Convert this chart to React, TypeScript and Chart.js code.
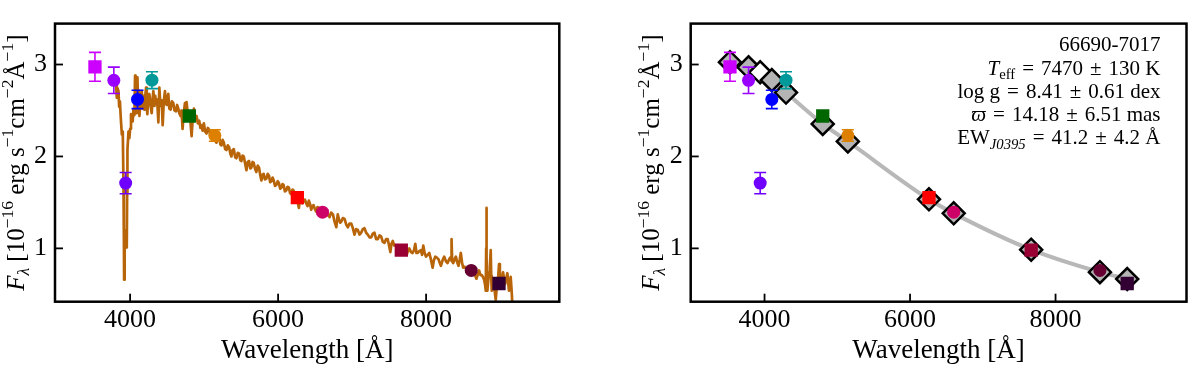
import React, { useEffect, useRef } from 'react';
import { Chart, registerables } from 'chart.js';

Chart.register(...registerables);

// ---------------- data ----------------
const FILTER_NAMES = ['uJAVA', 'J0378', 'J0395', 'J0410', 'J0430', 'gSDSS', 'J0515', 'rSDSS', 'J0660', 'iSDSS', 'J0861', 'zSDSS'];
const FILTER_WL = [3525, 3780, 3940, 4100, 4295, 4800, 5145, 6260, 6600, 7665, 8610, 8985];
const PHOT_FLUX = [2.975, 2.828, 1.71, 2.62, 2.83, 2.44, 2.228, 1.553, 1.394, 0.98, 0.76, 0.618];
const PHOT_ERR = [0.157, 0.144, 0.115, 0.1, 0.092, 0.025, 0.062, 0.02, 0.02, 0.02, 0.02, 0.02];
const PHOT_MARKER = ['s', 'o', 'o', 'o', 'o', 's', 'o', 's', 'o', 's', 'o', 's'];
const PHOT_COLOR = ['#cc00ff', '#9900ff', '#6f00ff', '#0000ff', '#009999', '#006600', '#dd8000', '#ff0000', '#cc0066', '#990033', '#660033', '#330034'];
const MODEL_FLUX = [3.025, 2.97, 2.915, 2.83, 2.695, 2.354, 2.163, 1.534, 1.381, 0.986, 0.741, 0.667];
const MODEL_FITTED = [true, true, false, true, true, true, true, true, true, true, true, true];

const SPEC_WL = [
  3811, 3820, 3831, 3843, 3852, 3862, 3874, 3888, 3901, 3910, 3916, 3919, 3926, 3933, 3944, 3955, 3960, 3964, 3978, 3990,
  4000, 4012, 4022, 4035, 4045, 4058, 4067, 4074, 4081, 4090, 4099, 4108, 4117, 4126, 4140, 4157, 4170, 4180, 4189, 4200,
  4216, 4225, 4233, 4245, 4260, 4275, 4292, 4303, 4314, 4330, 4340, 4350, 4365, 4382, 4395, 4410, 4427, 4440, 4455, 4471,
  4482, 4494, 4505, 4516, 4530, 4548, 4565, 4584, 4600, 4620, 4635, 4651, 4665, 4682, 4695, 4709, 4722, 4741, 4752, 4763,
  4780, 4799, 4815, 4831, 4845, 4862, 4880, 4898, 4915, 4934, 4950, 4965, 4980, 4997, 5015, 5033, 5050, 5069, 5085, 5100,
  5115, 5131, 5150, 5167, 5185, 5203, 5220, 5235, 5250, 5266, 5285, 5302, 5320, 5338, 5355, 5369, 5385, 5401, 5420, 5437,
  5455, 5473, 5490, 5504, 5520, 5536, 5555, 5572, 5590, 5607, 5625, 5639, 5655, 5670, 5690, 5706, 5725, 5742, 5758, 5774,
  5790, 5805, 5822, 5841, 5860, 5877, 5893, 5908, 5925, 5940, 5958, 5976, 5995, 6011, 6028, 6043, 6060, 6074, 6092, 6110,
  6128, 6146, 6162, 6178, 6195, 6209, 6228, 6245, 6262, 6281, 6296, 6312, 6328, 6344, 6362, 6380, 6398, 6416, 6432, 6447,
  6462, 6479, 6496, 6514, 6532, 6550, 6565, 6582, 6598, 6613, 6630, 6649, 6665, 6685, 6696, 6716, 6741, 6760, 6786, 6806,
  6821, 6838, 6853, 6875, 6898, 6920, 6943, 6965, 6988, 7010, 7032, 7055, 7077, 7100, 7122, 7145, 7167, 7190, 7212, 7235,
  7257, 7280, 7302, 7325, 7347, 7370, 7392, 7415, 7437, 7460, 7481, 7500, 7517, 7532, 7549, 7570, 7594, 7615, 7639, 7665,
  7690, 7706, 7722, 7737, 7755, 7773, 7795, 7818, 7836, 7854, 7870, 7886, 7908, 7930, 7945, 7962, 7980, 7998, 8020, 8043,
  8065, 8088, 8105, 8124, 8145, 8169, 8185, 8200, 8222, 8245, 8268, 8290, 8310, 8326, 8338, 8344, 8352, 8366, 8385, 8402,
  8420, 8438, 8455, 8469, 8485, 8501, 8520, 8537, 8560, 8580, 8604, 8625, 8649, 8665, 8680, 8700, 8716, 8735, 8752, 8768,
  8784, 8798, 8806, 8812, 8815, 8819, 8828, 8840, 8851, 8862, 8873, 8880, 8887, 8898, 8909, 8925, 8941, 8952, 8963, 8975,
  8986, 8997, 9008, 9025, 9040, 9055, 9066, 9082, 9098, 9110, 9120, 9132, 9143, 9155, 9165,
];
const SPEC_FLUX = [
  2.78, 2.64, 2.74, 2.71, 2.54, 2.60, 2.42, 2.24, 2.27, 1.73, 1.10, 0.66, 1.20, 1.05, 1.02, 1.01, 1.60, 2.07, 2.27, 2.20,
  2.30, 2.46, 2.44, 2.38, 2.51, 2.45, 2.88, 2.55, 2.47, 2.62, 2.86, 2.58, 2.72, 2.44, 2.60, 2.71, 2.52, 2.66, 2.51, 2.62,
  2.75, 2.55, 2.46, 2.64, 2.68, 2.56, 2.47, 2.62, 2.71, 2.55, 2.66, 2.58, 2.62, 2.37, 2.75, 2.55, 2.61, 2.34, 2.60, 2.71,
  2.58, 2.56, 2.64, 2.68, 2.52, 2.51, 2.60, 2.58, 2.50, 2.49, 2.56, 2.52, 2.47, 2.44, 2.50, 2.30, 2.45, 2.58, 2.50, 2.59,
  2.46, 2.44, 2.38, 2.22, 2.40, 2.52, 2.40, 2.44, 2.36, 2.39, 2.31, 2.34, 2.28, 2.36, 2.27, 2.25, 2.31, 2.29, 2.22, 2.20,
  2.26, 2.25, 2.17, 2.15, 2.21, 2.22, 2.13, 2.12, 2.18, 2.15, 2.08, 2.07, 2.12, 2.10, 2.03, 2.00, 2.07, 2.08, 1.99, 1.98,
  2.04, 2.03, 1.96, 1.95, 2.01, 2.00, 1.92, 1.85, 1.94, 1.95, 1.87, 1.88, 1.94, 1.93, 1.86, 1.83, 1.90, 1.88, 1.80, 1.74,
  1.80, 1.81, 1.75, 1.76, 1.81, 1.79, 1.72, 1.73, 1.77, 1.74, 1.68, 1.69, 1.73, 1.71, 1.65, 1.66, 1.70, 1.69, 1.62, 1.63,
  1.67, 1.66, 1.60, 1.59, 1.64, 1.63, 1.57, 1.56, 1.52, 1.44, 1.55, 1.54, 1.49, 1.51, 1.53, 1.49, 1.46, 1.52, 1.48, 1.42,
  1.46, 1.47, 1.43, 1.40, 1.45, 1.44, 1.38, 1.39, 1.42, 1.40, 1.36, 1.39, 1.37, 1.35, 1.34, 1.39, 1.37, 1.30, 1.23, 1.37,
  1.32, 1.28, 1.29, 1.33, 1.32, 1.26, 1.23, 1.27, 1.27, 1.22, 1.15, 1.21, 1.20, 1.15, 1.17, 1.21, 1.22, 1.17, 1.15, 1.12,
  1.12, 1.16, 1.17, 1.10, 1.10, 1.14, 1.13, 1.07, 1.06, 1.10, 1.10, 1.03, 0.96, 1.05, 1.08, 1.03, 1.03, 1.00, 1.00, 0.97,
  0.99, 0.96, 0.98, 0.93, 0.97, 1.00, 0.96, 0.95, 0.98, 1.05, 0.95, 0.95, 0.97, 0.98, 0.93, 1.03, 0.95, 0.91, 0.93, 0.95,
  0.88, 0.79, 0.87, 0.91, 0.90, 0.88, 0.84, 0.81, 0.87, 0.91, 0.86, 0.84, 0.88, 0.90, 0.87, 1.10, 0.86, 0.84, 0.88, 0.91,
  0.85, 0.81, 0.88, 0.95, 0.85, 0.79, 0.80, 0.78, 0.76, 0.77, 0.76, 0.74, 0.74, 0.70, 0.67, 0.72, 0.76, 0.71, 0.71, 0.69,
  0.66, 0.60, 0.54, 1.00, 1.44, 0.90, 0.54, 0.65, 0.74, 0.80, 0.98, 0.70, 0.54, 0.62, 0.67, 0.55, 0.44, 0.55, 0.64, 0.70,
  0.83, 0.70, 0.62, 0.68, 0.74, 0.66, 0.61, 0.67, 0.73, 0.62, 0.54, 0.62, 0.69, 0.55, 0.40,
];

const X_TICKS = [4000, 6000, 8000];
const Y_TICKS = [1, 2, 3];
const X_MIN = 2985;
const X_MAX = 9800;
const Y_MIN = 0.42;
const Y_MAX = 3.445;

const X_TITLE = 'Wavelength [Å]';
const STAR_ID = '66690-7017';

// ---------------- styling ----------------
const SERIF = '"Liberation Serif", "DejaVu Serif", serif';
const SPEC_COLOR = '#b8650a';
const MODEL_LINE_COLOR = '#b8b8b8';
const MODEL_FACE = '#b4b4b4';
const SP = '\u2004';

type Seg = { t: string; it?: boolean; sub?: boolean; sup?: boolean };

const Y_TITLE: Seg[] = [
  { t: 'F', it: true }, { t: 'λ', sub: true, it: true }, { t: ' [10' }, { t: '−16', sup: true },
  { t: ' erg s' }, { t: '−1', sup: true }, { t: 'cm' }, { t: '−2', sup: true },
  { t: 'Å' }, { t: '−1', sup: true }, { t: ']' },
];

const INFO_LINES: Seg[][] = [
  [{ t: STAR_ID }],
  [{ t: 'T', it: true }, { t: 'eff', sub: true }, { t: `${SP}=${SP}7470${SP}±${SP}130 K` }],
  [{ t: `log g${SP}=${SP}8.41${SP}±${SP}0.61 dex` }],
  [{ t: 'ϖ', it: true }, { t: `${SP}=${SP}14.18${SP}±${SP}6.51 mas` }],
  [{ t: 'EW' }, { t: 'J0395', sub: true, it: true }, { t: `${SP}=${SP}41.2${SP}±${SP}4.2 Å` }],
];

function segFont(s: Seg, size: number) {
  const sz = s.sub || s.sup ? size * 0.7 : size;
  return `${s.it ? 'italic ' : ''}${sz}px ${SERIF}`;
}

function segsWidth(ctx: CanvasRenderingContext2D, segs: Seg[], size: number) {
  let w = 0;
  for (const s of segs) {
    ctx.font = segFont(s, size);
    w += ctx.measureText(s.t).width;
  }
  return w;
}

function drawSegs(ctx: CanvasRenderingContext2D, segs: Seg[], x: number, y: number, size: number, align: 'left' | 'right' | 'center') {
  const w = segsWidth(ctx, segs, size);
  let cx = align === 'right' ? x - w : align === 'center' ? x - w / 2 : x;
  ctx.textAlign = 'left';
  ctx.textBaseline = 'alphabetic';
  for (const s of segs) {
    ctx.font = segFont(s, size);
    const dy = s.sup ? -0.42 * size : s.sub ? 0.22 * size : 0;
    ctx.fillText(s.t, cx, y + dy);
    cx += ctx.measureText(s.t).width;
  }
}

function decorPlugin(showInfo: boolean) {
  return {
    id: showInfo ? 'decorRight' : 'decorLeft',
    afterDraw(chart: any) {
      const { ctx, chartArea: a, scales } = chart;
      ctx.save();
      ctx.strokeStyle = '#000';
      ctx.fillStyle = '#000';
      ctx.lineWidth = 1.8;
      for (const v of X_TICKS) {
        const px = scales.x.getPixelForValue(v);
        ctx.beginPath();
        ctx.moveTo(px, a.bottom);
        ctx.lineTo(px, a.bottom - 8);
        ctx.stroke();
      }
      for (const v of Y_TICKS) {
        const py = scales.y.getPixelForValue(v);
        ctx.beginPath();
        ctx.moveTo(a.left, py);
        ctx.lineTo(a.left + 8, py);
        ctx.stroke();
      }
      ctx.lineWidth = 2.5;
      ctx.strokeRect(a.left, a.top, a.right - a.left, a.bottom - a.top);

      ctx.save();
      ctx.translate(a.left - 31.5, (a.top + a.bottom) / 2);
      ctx.rotate(-Math.PI / 2);
      drawSegs(ctx, Y_TITLE, 0, 0, 25, 'center');
      ctx.restore();

      if (showInfo) {
        INFO_LINES.forEach((line, i) => {
          drawSegs(ctx, line, a.right - 26, a.top + 27.6 + i * 23.3, 21, 'right');
        });
      }
      ctx.restore();
    },
  };
}

function makeOptions(yAxisWidth: number, padRight: number) {
  const tickFont = { family: SERIF, size: 26 };
  return {
    animation: false,
    responsive: false,
    devicePixelRatio: 1,
    events: [],
    layout: { padding: { top: 4.7, right: padRight, left: 0, bottom: 0 } },
    plugins: { legend: { display: false }, tooltip: { enabled: false } },
    scales: {
      x: {
        type: 'linear',
        min: X_MIN,
        max: X_MAX,
        grid: { display: false, drawTicks: false },
        border: { display: false },
        ticks: { font: tickFont, color: '#000', padding: 3, autoSkip: false, maxRotation: 0, callback: (v: any) => String(v) },
        afterBuildTicks: (ax: any) => { ax.ticks = X_TICKS.map((v) => ({ value: v })); },
        afterFit: (ax: any) => { ax.height = 370 - 301.7; },
        title: { display: true, text: X_TITLE, color: '#000', font: { family: SERIF, size: 27 }, padding: { top: 0, bottom: 3 } },
      },
      y: {
        type: 'linear',
        min: Y_MIN,
        max: Y_MAX,
        grid: { display: false, drawTicks: false },
        border: { display: false },
        ticks: { font: tickFont, color: '#000', padding: 8, autoSkip: false, callback: (v: any) => String(v) },
        afterBuildTicks: (ax: any) => { ax.ticks = Y_TICKS.map((v) => ({ value: v })); },
        afterFit: (ax: any) => { ax.width = yAxisWidth; },
      },
    },
  };
}

function errorBarDatasets() {
  return FILTER_WL.map((wl, i) => ({
    label: FILTER_NAMES[i] + ' err',
    data: [{ x: wl, y: PHOT_FLUX[i] - PHOT_ERR[i] }, { x: wl, y: PHOT_FLUX[i] + PHOT_ERR[i] }],
    showLine: true,
    borderColor: PHOT_COLOR[i],
    borderWidth: 1.6,
    pointStyle: 'line',
    pointRadius: 6,
    pointBorderColor: PHOT_COLOR[i],
    pointBackgroundColor: PHOT_COLOR[i],
    pointBorderWidth: 1.6,
    order: 1,
  }));
}

function photDataset() {
  return {
    label: 'photometry',
    data: FILTER_WL.map((x, i) => ({ x, y: PHOT_FLUX[i] })),
    showLine: false,
    pointStyle: PHOT_MARKER.map((m) => (m === 's' ? 'rect' : 'circle')),
    pointRadius: PHOT_MARKER.map((m) => (m === 's' ? 9.4 : 6.5)),
    pointBackgroundColor: PHOT_COLOR,
    pointBorderColor: PHOT_COLOR,
    pointBorderWidth: 0,
    order: 0,
  };
}

function leftConfig(): any {
  return {
    type: 'scatter',
    data: {
      datasets: [
        photDataset(),
        ...errorBarDatasets(),
        {
          label: 'spectrum',
          data: SPEC_WL.map((x, i) => ({ x, y: SPEC_FLUX[i] })),
          showLine: true,
          borderColor: SPEC_COLOR,
          borderWidth: 2.7,
          borderJoinStyle: 'round',
          pointRadius: 0,
          clip: 0,
          order: 2,
        },
      ],
    },
    options: makeOptions(55, 600 - 559.3),
    plugins: [decorPlugin(false)],
  };
}

function rightConfig(): any {
  const modelData = FILTER_WL.map((x, i) => ({ x, y: MODEL_FLUX[i] }));
  return {
    type: 'scatter',
    data: {
      datasets: [
        photDataset(),
        ...errorBarDatasets(),
        {
          label: 'model',
          data: modelData,
          showLine: false,
          pointStyle: 'rectRot',
          pointRadius: 11,
          pointBackgroundColor: MODEL_FITTED.map((f) => (f ? MODEL_FACE : '#ffffff')),
          pointBorderColor: '#000',
          pointBorderWidth: 2.5,
          order: 2,
        },
        {
          label: 'model line',
          data: modelData,
          showLine: true,
          borderColor: MODEL_LINE_COLOR,
          borderWidth: 4,
          cubicInterpolationMode: 'monotone',
          pointRadius: 0,
          order: 3,
        },
      ],
    },
    options: makeOptions(90.7, 6),
    plugins: [decorPlugin(true)],
  };
}

export default function App() {
  const leftRef = useRef<HTMLCanvasElement>(null);
  const rightRef = useRef<HTMLCanvasElement>(null);

  useEffect(() => {
    const l = new Chart(leftRef.current as HTMLCanvasElement, leftConfig());
    const r = new Chart(rightRef.current as HTMLCanvasElement, rightConfig());
    return () => {
      l.destroy();
      r.destroy();
    };
  }, []);

  return (
    <div style={{ position: 'absolute', left: 0, top: 0, width: 1200, height: 370, background: '#fff' }}>
      <canvas ref={leftRef} width={600} height={370} style={{ position: 'absolute', left: 0, top: 0, width: 600, height: 370 }} />
      <canvas ref={rightRef} width={600} height={370} style={{ position: 'absolute', left: 600, top: 0, width: 600, height: 370 }} />
    </div>
  );
}
